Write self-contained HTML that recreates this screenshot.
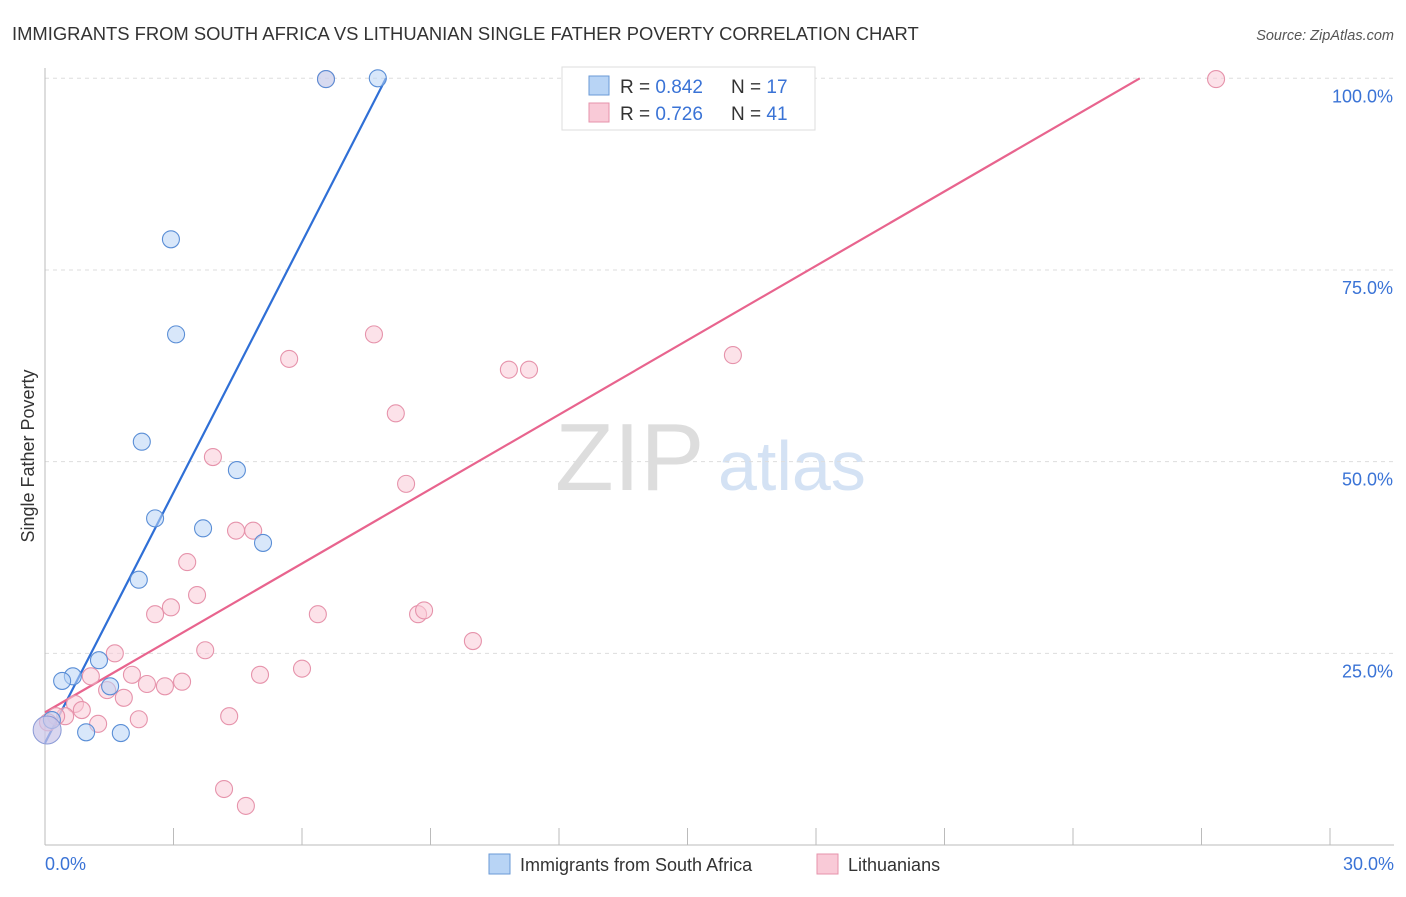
<!DOCTYPE html>
<html><head><meta charset="utf-8"><style>
body{margin:0;background:#fff;font-family:"Liberation Sans",sans-serif;}
svg text{font-family:"Liberation Sans",sans-serif;}
</style></head><body>
<svg id="chart" width="1406" height="892">
<text x="12" y="40" font-size="18.4" fill="#333">IMMIGRANTS FROM SOUTH AFRICA VS LITHUANIAN SINGLE FATHER POVERTY CORRELATION CHART</text>
<text x="1394" y="40" font-size="14.5" fill="#555" font-style="italic" text-anchor="end">Source: ZipAtlas.com</text>
<text x="555" y="490" font-size="96" fill="#ddd" font-family="Liberation Serif">ZIP</text>
<text x="718" y="490" font-size="70" fill="#d4e2f4">atlas</text>
<text transform="translate(34,456) rotate(-90)" font-size="18" fill="#333" text-anchor="middle">Single Father Poverty</text>
<g id="grid"></g><g id="axes"></g><g id="lines"></g><g id="pts"></g>
<g>
<rect x="562" y="67" width="253" height="63" fill="#fff" stroke="#ddd"/>
<rect x="589" y="76" width="20" height="19" fill="#b8d4f5" stroke="#6a9ad6"/>
<rect x="589" y="103" width="20" height="19" fill="#f9cad7" stroke="#e693ab"/>
<text x="620" y="93" font-size="19" fill="#333">R = <tspan fill="#3a73d6">0.842</tspan></text>
<text x="731" y="93" font-size="19" fill="#333">N = <tspan fill="#3a73d6">17</tspan></text>
<text x="620" y="120" font-size="19" fill="#333">R = <tspan fill="#3a73d6">0.726</tspan></text>
<text x="731" y="120" font-size="19" fill="#333">N = <tspan fill="#3a73d6">41</tspan></text>
</g>
<g>
<rect x="489" y="854" width="21" height="20" fill="#b8d4f5" stroke="#6a9ad6"/>
<text x="520" y="871" font-size="18" fill="#333">Immigrants from South Africa</text>
<rect x="817" y="854" width="21" height="20" fill="#f9cad7" stroke="#e693ab"/>
<text x="848" y="871" font-size="18" fill="#333">Lithuanians</text>
</g>
</svg>
<script>
const blueX=[6.56,7.77,2.94,3.06,2.26,4.48,2.57,3.69,5.09,2.19,1.26,0.65,0.40,1.52,0.96,1.77,0.16];
const blueY=[99.9,100,79.0,66.6,52.6,48.9,42.6,41.3,39.4,34.6,24.1,22.0,21.4,20.7,14.7,14.6,16.3];
const pinkX=[6.56,27.34,7.68,5.70,16.06,10.83,11.30,8.19,3.92,8.43,4.46,4.86,3.32,3.55,2.94,2.57,6.37,8.71,8.85,9.99,3.74,1.63,6.00,5.02,2.03,1.07,2.38,3.20,2.80,1.45,1.84,0.70,0.86,0.47,1.24,2.19,4.30,0.26,0.07,4.18,4.69];
const pinkY=[99.9,99.9,66.6,63.4,63.9,62.0,62.0,56.3,50.6,47.1,41.0,41.0,36.9,32.6,31.0,30.1,30.1,30.1,30.6,26.6,25.4,25.0,23.0,22.2,22.2,22.0,21.0,21.3,20.7,20.2,19.2,18.4,17.6,16.8,15.8,16.4,16.8,16.8,16.0,7.3,5.1];
const blueTrend=[0,13.3,7.96,100];
const pinkTrend=[0,17.3,25.56,100];
const yTicks=[25,50,75,100];
const xTickVals=[0,3,6,9,12,15,18,21,24,27,30];
const X=v=>45+v/30*1285, Y=v=>845-v*7.667;
const NS="http://www.w3.org/2000/svg";
function mk(t,a,p){const e=document.createElementNS(NS,t);for(const k in a)e.setAttribute(k,a[k]);document.getElementById(p).appendChild(e);return e;}
yTicks.forEach(v=>{
 const l=mk('line',{x1:45,x2:1394,y1:Y(v),y2:Y(v),stroke:'#ddd','stroke-dasharray':'4,4'},'grid');
 
 
 const t=mk('text',{x:1393,y:Y(v)+24,'font-size':18,fill:'#3a73d6','text-anchor':'end'},'grid');t.textContent=v.toFixed(1)+'%';
 
 
});
const ax=mk('line',{x1:45,x2:1394,y1:845,y2:845,stroke:'#bbb'},'axes');


const ay=mk('line',{x1:45,x2:45,y1:68,y2:845,stroke:'#bbb'},'axes');


xTickVals.forEach(v=>{const t=mk('line',{x1:X(v),x2:X(v),y1:828,y2:845,stroke:'#bbb'},'axes');
 
 });
const l0=mk('text',{x:45,y:870,'font-size':18,fill:'#3a73d6'},'axes');l0.textContent='0.0%';


const l1=mk('text',{x:1394,y:870,'font-size':18,fill:'#3a73d6','text-anchor':'end'},'axes');l1.textContent='30.0%';


function dots(xs,ys,fill,stroke,name){xs.forEach((x,i)=>{const c=mk('circle',{cx:X(x),cy:Y(ys[i]),r:8.5,fill:fill,'fill-opacity':0.55,stroke:stroke,'stroke-width':1.1},'pts');
 
 });}
dots(pinkX,pinkY,'#f9cad7','#e693ab','pink-point');
dots(blueX,blueY,'#b8d4f5','#5a8ed6','blue-point');
const big=mk('circle',{cx:X(0.05),cy:Y(15.0),r:14,fill:'#c9c4e8','fill-opacity':0.7,stroke:'#8a9ad6'},'pts');


const bl=mk('line',{x1:X(blueTrend[0]),y1:Y(blueTrend[1]),x2:X(blueTrend[2]),y2:Y(blueTrend[3]),stroke:'#2f6fd6','stroke-width':2.2},'lines');


const pl=mk('line',{x1:X(pinkTrend[0]),y1:Y(pinkTrend[1]),x2:X(pinkTrend[2]),y2:Y(pinkTrend[3]),stroke:'#e8648e','stroke-width':2.2},'lines');


</script>
</body></html>
